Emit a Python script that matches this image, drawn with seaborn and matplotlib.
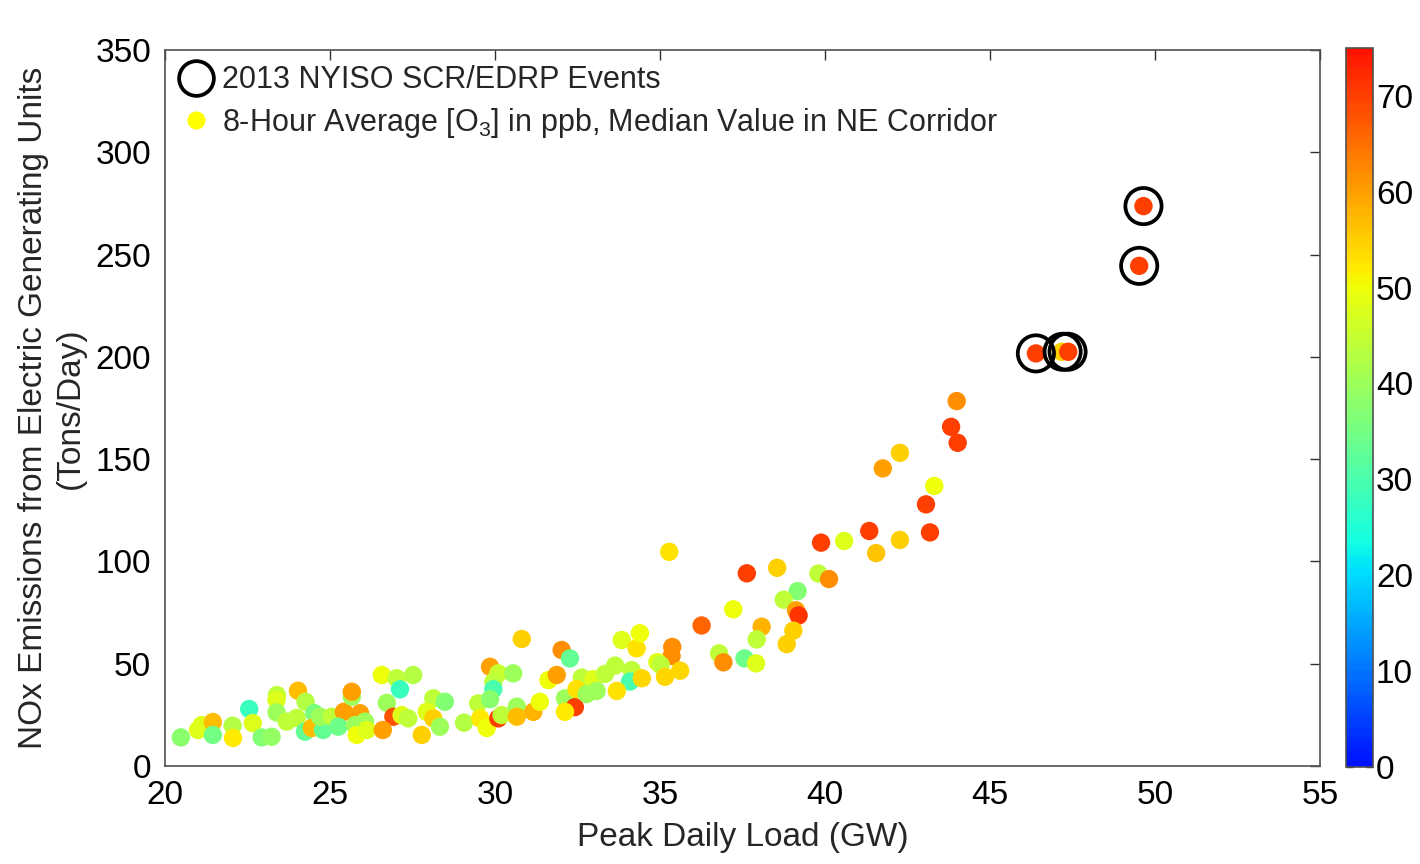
import numpy as np
import pandas as pd
import matplotlib
matplotlib.use("Agg")
import matplotlib.pyplot as plt
from matplotlib.colors import ListedColormap, Normalize
from matplotlib.lines import Line2D
import seaborn as sns

# ---- data ----
peak_load_gw = [20.48, 21.11, 21.00, 21.45, 21.45, 22.05, 22.06, 22.55, 22.66, 22.93,
                23.23, 23.39, 23.38, 23.38, 24.03, 23.69, 23.99, 24.26, 24.52, 24.24,
                24.45, 24.79, 24.70, 25.05, 25.42, 25.25, 25.66, 25.66, 25.91, 25.76,
                25.81, 26.06, 26.11, 26.57, 27.02, 27.52, 27.12, 26.72, 26.92, 27.17,
                27.37, 26.60, 28.13, 28.48, 27.93, 28.13, 28.33, 27.78, 29.06, 29.49,
                29.55, 29.75, 30.10, 30.20, 29.85, 30.10, 30.55, 29.95, 29.95, 29.85,
                30.81, 30.66, 30.66, 31.16, 31.36, 32.02, 32.27, 31.62, 31.87, 32.12,
                32.42, 32.12, 32.63, 32.98, 32.47, 32.78, 33.08, 33.33, 33.64, 33.84,
                34.29, 34.39, 34.14, 34.09, 33.69, 34.45, 35.37, 35.35, 34.92, 35.02,
                35.15, 35.61, 35.28, 36.26, 37.22, 36.79, 36.92, 37.56, 37.91, 37.63,
                38.08, 37.93, 38.55, 39.88, 40.58, 39.80, 40.12, 39.17, 38.75, 39.12,
                39.20, 39.04, 38.84, 41.34, 41.55, 42.27, 43.18, 41.75, 42.27, 43.06,
                43.31, 43.82, 44.02, 43.99, 46.39, 47.17, 47.37, 49.52, 49.65]
nox_tons_day = [14.0, 20.0, 17.6, 21.5, 15.2, 19.7, 13.7, 27.9, 21.0, 14.0,
                14.3, 34.7, 32.3, 26.2, 36.8, 21.7, 23.5, 31.4, 25.9, 16.8,
                18.6, 17.6, 24.1, 24.1, 26.5, 19.2, 33.9, 36.3, 25.8, 20.0,
                15.2, 21.7, 17.6, 44.5, 42.9, 44.5, 37.5, 30.9, 24.1, 24.9,
                23.3, 17.6, 33.1, 31.4, 26.5, 23.3, 19.2, 15.2, 21.2, 30.6,
                23.3, 18.6, 23.3, 24.9, 48.5, 45.3, 45.3, 41.2, 37.6, 32.7,
                62.1, 29.0, 24.1, 26.5, 31.4, 56.7, 52.6, 42.0, 44.5, 33.1,
                28.8, 26.5, 43.2, 42.5, 37.6, 35.2, 36.7, 45.0, 49.1, 61.6,
                57.5, 64.9, 46.9, 41.3, 36.7, 42.9, 58.2, 53.8, 50.8, 49.4,
                43.6, 46.6, 104.7, 68.7, 76.6, 55.1, 50.7, 52.6, 50.2, 94.2,
                68.1, 61.9, 96.9, 109.2, 110.0, 94.1, 91.4, 85.5, 81.3, 76.1,
                73.6, 66.2, 59.6, 114.9, 104.1, 110.5, 114.2, 145.5, 153.1, 127.9,
                136.9, 165.8, 158.0, 178.4, 201.7, 202.5, 202.5, 244.5, 273.7]
ozone_ppb = [38, 48, 48, 57, 35, 43, 52, 28, 48, 37,
             39, 44, 48, 40, 57, 44, 44, 43, 36, 33,
             57, 33, 40, 44, 60, 34, 40, 60, 60, 40,
             50, 40, 48, 50, 44, 43, 28, 40, 68, 48,
             44, 60, 44, 37, 48, 55, 40, 55, 43, 44,
             52, 50, 70, 44, 60, 45, 40, 44, 30, 38,
             55, 40, 57, 58, 50, 62, 33, 50, 60, 40,
             70, 52, 44, 48, 53, 40, 40, 44, 44, 48,
             53, 50, 44, 30, 53, 54, 62, 62, 48, 44,
             54, 54, 53, 66, 50, 44, 62, 34, 48, 70,
             58, 44, 55, 70, 48, 44, 62, 37, 44, 60,
             71, 55, 55, 70, 56, 55, 70, 60, 55, 70,
             50, 70, 70, 62, 70, 55, 70, 70, 70]

event_load_gw = [46.39, 47.20, 47.35, 49.52, 49.65]
event_nox = [201.7, 202.5, 202.5, 244.5, 273.7]

x_ticks = [20, 25, 30, 35, 40, 45, 50, 55]
y_ticks = [0, 50, 100, 150, 200, 250, 300, 350]
cbar_ticks = [0, 10, 20, 30, 40, 50, 60, 70]

x_label = "Peak Daily Load (GW)"
y_label = "NOx Emissions from Electric Generating Units\n(Tons/Day)"
legend_labels = ["2013 NYISO SCR/EDRP Events",
                 "8-Hour Average [O$_3$] in ppb, Median Value in NE Corridor"]

df = pd.DataFrame({"load": peak_load_gw, "nox": nox_tons_day, "o3": ozone_ppb})
ev = pd.DataFrame({"load": event_load_gw, "nox": event_nox})

# ---- style ----
sns.set_theme(style="white")
plt.rcParams["font.family"] = ["Liberation Sans", "DejaVu Sans"]
plt.rcParams["mathtext.fontset"] = "custom"
plt.rcParams["mathtext.rm"] = "Liberation Sans"

cmap = ListedColormap(plt.get_cmap("jet")(np.linspace(0.14, 0.89, 256)))
norm = Normalize(0, 75)

fig = plt.figure(figsize=(14.2, 8.64), dpi=100)
ax = fig.add_axes([0.1162, 0.1134, 0.8134, 0.8287])

sns.scatterplot(data=df, x="load", y="nox", hue="o3", palette=cmap, hue_norm=norm,
                s=175, linewidth=0, edgecolor="none", legend=False, ax=ax, zorder=2)
sns.scatterplot(data=ev, x="load", y="nox", marker="o", s=680, facecolors="none",
                edgecolor="black", linewidth=2.7, legend=False, ax=ax, zorder=3)

ax.set_xlim(20, 55)
ax.set_ylim(0, 350)
ax.set_xticks(x_ticks)
ax.set_yticks(y_ticks)
ax.set_xlabel(x_label, fontsize=24, labelpad=8)
ax.set_ylabel(y_label, fontsize=24, labelpad=7, linespacing=1.25)
ax.tick_params(direction="in", length=7, width=1, top=True, right=True,
               labelsize=24, colors="#303030", pad=10)
ax.tick_params(axis="x", labelcolor="black")
ax.tick_params(axis="y", labelcolor="black")
for sp in ax.spines.values():
    sp.set_visible(True)
    sp.set_color("#505050")
    sp.set_linewidth(1.2)

handles = [Line2D([], [], marker="o", linestyle="none", markersize=25,
                  markerfacecolor="none", markeredgecolor="black", markeredgewidth=2.7),
           Line2D([], [], marker="o", linestyle="none", markersize=13,
                  markerfacecolor="#ffff00", markeredgecolor="none")]
ax.legend(handles, legend_labels, loc="upper left", bbox_to_anchor=(0.0, 1.0),
          frameon=False, fontsize=22, handlelength=1.0, handletextpad=0.35,
          borderaxespad=0.3, labelspacing=0.35, borderpad=0.2)

cax = fig.add_axes([0.948, 0.1123, 0.019, 0.8322])
sm = plt.cm.ScalarMappable(norm=norm, cmap=cmap)
cb = fig.colorbar(sm, cax=cax, ticks=cbar_ticks)
cb.ax.tick_params(direction="in", length=5, width=1, labelsize=24, left=True,
                  right=True, colors="#303030", labelcolor="black", pad=2)
cb.outline.set_edgecolor("#505050")
cb.outline.set_linewidth(1.2)

fig.savefig("out.png", dpi=100)
